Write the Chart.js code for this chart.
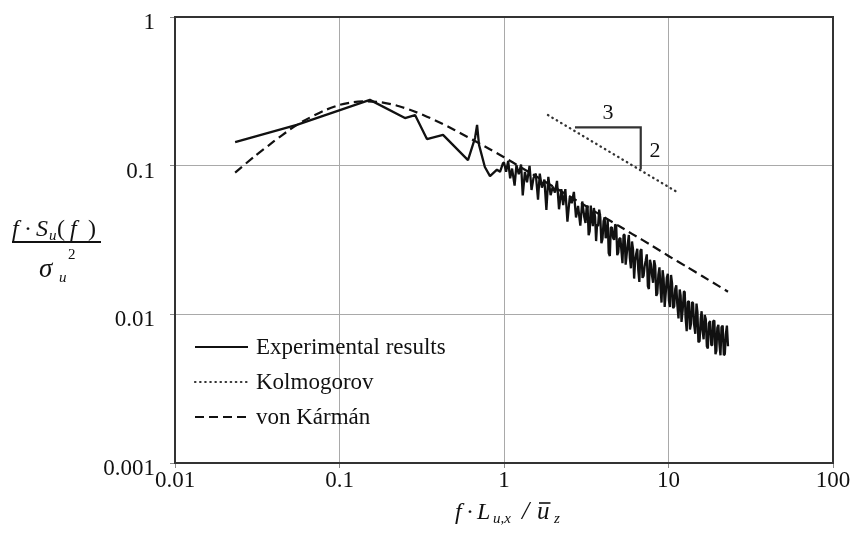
<!DOCTYPE html>
<html><head><meta charset="utf-8">
<script src="https://cdn.jsdelivr.net/npm/chart.js@4.4.1/dist/chart.umd.min.js"></script>
<style>html,body{margin:0;padding:0;background:#fff;}#wrap{width:850px;height:533px;}</style>
</head><body><div id="wrap"><canvas id="c" width="850" height="533"></canvas></div>
<script>
// ---------- data ----------
const xTickValues = [0.01, 0.1, 1, 10, 100];
const xTickLabels = ['0.01', '0.1', '1', '10', '100'];
const yTickValues = [0.001, 0.01, 0.1, 1];
const yTickLabels = ['0.001', '0.01', '0.1', '1'];
const seriesNames = ['Experimental results', 'Kolmogorov', 'von Kármán'];

const expX = [0.0232, 0.055, 0.153, 0.25, 0.288, 0.34, 0.426, 0.604, 0.667, 0.686, 0.705, 0.765, 0.822, 0.906, 0.946, 0.986,
  1.00, 1.03, 1.06, 1.09, 1.12, 1.16, 1.19, 1.23, 1.27, 1.30, 1.34, 1.38, 1.43, 1.47,
  1.51, 1.56, 1.61, 1.65, 1.70, 1.76, 1.81, 1.86, 1.92, 1.98,
  2.04, 2.10, 2.16, 2.23, 2.29, 2.36, 2.43, 2.51, 2.58, 2.66, 2.74, 2.82, 2.91, 2.99,
  3.08, 3.13, 3.18, 3.22, 3.27, 3.32, 3.37, 3.42, 3.47, 3.52,
  3.58, 3.63, 3.68, 3.73, 3.79, 3.85, 3.91, 3.97, 4.03, 4.09,
  4.15, 4.21, 4.27, 4.33, 4.40, 4.46, 4.53, 4.60, 4.67, 4.74,
  4.81, 4.88, 4.95, 5.02, 5.10, 5.17, 5.25, 5.33, 5.41, 5.49,
  5.57, 5.65, 5.74, 5.82, 5.91, 6.00, 6.09, 6.18, 6.27, 6.36,
  6.46, 6.55, 6.65, 6.75, 6.85, 6.95, 7.06, 7.16, 7.27, 7.38,
  7.49, 7.60, 7.71, 7.82, 7.94, 8.06, 8.18, 8.30, 8.43, 8.55,
  8.68, 8.81, 8.94, 9.07, 9.21, 9.34, 9.48, 9.62, 9.77, 9.91,
  10.06, 10.21, 10.36, 10.51, 10.67, 10.83, 10.99, 11.15, 11.3, 11.5,
  11.7, 11.85, 12.0, 12.2, 12.4, 12.55, 12.7, 12.9, 13.1, 13.3,
  13.5, 13.7, 13.9, 14.1, 14.3, 14.55, 14.8, 15.0, 15.2, 15.45,
  15.7, 15.9, 16.1, 16.35, 16.6, 16.85, 17.1, 17.35, 17.6, 17.9,
  18.2, 18.45, 18.7, 19.0, 19.3, 19.55, 19.8, 20.1, 20.4, 20.7,
  21.0, 21.35, 21.7, 22.0, 22.3, 22.65, 23.0];
const expY = [0.144, 0.188, 0.277, 0.209, 0.219, 0.151, 0.161, 0.109, 0.154, 0.188, 0.138, 0.098, 0.085, 0.094, 0.091, 0.104,
  0.105, 0.0909, 0.1075, 0.0821, 0.0956, 0.0735, 0.1008, 0.0875, 0.1018, 0.0630, 0.0908, 0.0774, 0.0997, 0.0686,
  0.0822, 0.0885, 0.0590, 0.0884, 0.0711, 0.0805, 0.0503, 0.0840, 0.0633, 0.0723,
  0.0659, 0.0790, 0.0509, 0.0694, 0.0543, 0.0695, 0.0420, 0.0613, 0.0559, 0.0666, 0.0448, 0.0536, 0.0395, 0.0574,
  0.0448, 0.0412, 0.0526, 0.0539, 0.0340, 0.0364, 0.0539, 0.0444, 0.0392, 0.0519,
  0.0449, 0.0311, 0.0404, 0.0391, 0.0506, 0.0448, 0.0301, 0.0321, 0.0423, 0.0449,
  0.0325, 0.0343, 0.0431, 0.0258, 0.0247, 0.0383, 0.0385, 0.0328, 0.0317, 0.0403,
  0.0394, 0.0250, 0.0260, 0.0322, 0.0326, 0.0270, 0.0221, 0.0342, 0.0343, 0.0216,
  0.0253, 0.0296, 0.0342, 0.0241, 0.0204, 0.0309, 0.0272, 0.0174, 0.0228, 0.0255,
  0.0276, 0.0198, 0.0165, 0.0268, 0.0274, 0.0176, 0.0182, 0.0211, 0.0230, 0.0253,
  0.0155, 0.0148, 0.0233, 0.0217, 0.0182, 0.0163, 0.0231, 0.0212, 0.0133, 0.0138,
  0.0185, 0.0207, 0.0150, 0.0120, 0.0198, 0.0174, 0.0112, 0.0139, 0.0177, 0.0187,
  0.0124, 0.0112, 0.0184, 0.0162, 0.0110, 0.0113, 0.0148, 0.0157, 0.0118, 0.0094,
  0.0147, 0.0134, 0.0089, 0.0107, 0.0142, 0.0142, 0.0095, 0.0077, 0.0121, 0.0123,
  0.0079, 0.0086, 0.0121, 0.0119, 0.0086, 0.0074, 0.0118, 0.0103, 0.0065, 0.0066,
  0.0094, 0.0105, 0.0078, 0.0068, 0.0099, 0.0093, 0.0061, 0.0059, 0.0087, 0.0090,
  0.0062, 0.0062, 0.0090, 0.0091, 0.0054, 0.0057, 0.0081, 0.0085, 0.0063, 0.0053,
  0.0082, 0.0084, 0.0053, 0.0054, 0.0073, 0.0084, 0.0061];

const karmanX = [0.0232, 0.03, 0.04, 0.05, 0.06, 0.08, 0.1, 0.12, 0.146, 0.18, 0.22, 0.27, 0.33, 0.4, 0.5, 0.6, 0.8,
  1, 1.3, 1.6, 2, 2.5, 3, 4, 5, 6, 8, 10, 13, 16, 20, 23];
const karmanY = [0.0899, 0.114, 0.146, 0.175, 0.199, 0.234, 0.256, 0.267, 0.271, 0.267, 0.255, 0.237, 0.217, 0.197, 0.174, 0.156, 0.131,
  0.114, 0.0958, 0.0836, 0.0722, 0.0623, 0.0552, 0.0455, 0.0393, 0.0348, 0.0288, 0.0247, 0.0208, 0.0181, 0.0156, 0.0142];

const kolmoX = [1.85, 11.4];
const kolmoY = [0.219, 0.066];

const slopeX = [2.70, 6.78, 6.78];
const slopeY = [0.181, 0.181, 0.0946];
const slopeLabels = ['3', '2'];
const slopeLabelX = [4.29, 8.28];
const slopeLabelY = [0.226, 0.126];

// ---------- helpers ----------
const SERIF = '"Liberation Serif", "Times New Roman", serif';
const pts = (xs, ys) => xs.map((x, i) => ({ x: x, y: ys[i] }));
const INK = '#111';
const it = (s) => 'italic ' + s + 'px ' + SERIF;
const rm = (s) => s + 'px ' + SERIF;

function drawGlyphs(ctx, list) {
  for (const g of list) {
    ctx.font = g.font;
    ctx.fillText(g.t, g.x, g.y);
    if (g.over) {
      const w = ctx.measureText(g.t).width;
      ctx.save();
      ctx.lineWidth = 1.6;
      ctx.beginPath();
      ctx.moveTo(g.x + 2, g.y - 16);
      ctx.lineTo(g.x + w + 1, g.y - 16);
      ctx.stroke();
      ctx.restore();
    }
  }
}

const decorPlugin = {
  id: 'decor',
  afterDatasetsDraw(chart) {
    const ctx = chart.ctx;
    const a = chart.chartArea;
    const xs = chart.scales.x, ys = chart.scales.y;
    ctx.save();
    // frame
    ctx.strokeStyle = '#333';
    ctx.lineWidth = 2;
    ctx.setLineDash([]);
    ctx.strokeRect(a.left, a.top, a.right - a.left, a.bottom - a.top);

    // slope labels
    ctx.fillStyle = INK;
    ctx.strokeStyle = INK;
    ctx.font = rm(22);
    ctx.textAlign = 'center';
    ctx.textBaseline = 'middle';
    slopeLabels.forEach((t, i) => {
      ctx.fillText(t, xs.getPixelForValue(slopeLabelX[i]), ys.getPixelForValue(slopeLabelY[i]));
    });

    // legend
    const ds = chart.data.datasets;
    const legendOrder = [0, 1, 2];
    const lx0 = a.left + 20, lx1 = a.left + 73, tx = a.left + 81;
    const rowY = [347, 382, 417];
    ctx.textAlign = 'left';
    ctx.font = rm(23);
    legendOrder.forEach((di, r) => {
      const d = ds[di];
      ctx.save();
      ctx.strokeStyle = d.borderColor;
      ctx.lineWidth = Math.min(d.borderWidth, 2.2);
      ctx.lineCap = d.borderCapStyle || 'butt';
      ctx.setLineDash(d.borderDash || []);
      ctx.beginPath();
      ctx.moveTo(lx0, rowY[r]);
      ctx.lineTo(lx1, rowY[r]);
      ctx.stroke();
      ctx.restore();
      ctx.fillText(d.label, tx, rowY[r] + 1);
    });

    // y-axis title (fraction)
    ctx.textAlign = 'left';
    ctx.textBaseline = 'alphabetic';
    drawGlyphs(ctx, [
      { t: 'f', x: 12, y: 236, font: it(24) },
      { t: '·', x: 24, y: 236, font: rm(24) },
      { t: 'S', x: 36, y: 236, font: it(24) },
      { t: 'u', x: 49, y: 240, font: it(15) },
      { t: '(', x: 57, y: 236, font: rm(24) },
      { t: 'f', x: 70, y: 236, font: it(24) },
      { t: ')', x: 88, y: 236, font: rm(24) },
      { t: 'σ', x: 39, y: 277, font: it(27) },
      { t: 'u', x: 59, y: 282, font: it(15) },
      { t: '2', x: 68, y: 259, font: rm(15) }
    ]);
    ctx.lineWidth = 1.8;
    ctx.beginPath();
    ctx.moveTo(12, 242);
    ctx.lineTo(101, 242);
    ctx.stroke();

    // x-axis title
    drawGlyphs(ctx, [
      { t: 'f', x: 455, y: 519, font: it(24) },
      { t: '·', x: 466, y: 519, font: rm(24) },
      { t: 'L', x: 477, y: 519, font: it(24) },
      { t: 'u,x', x: 493, y: 523, font: it(15) },
      { t: '/', x: 522, y: 519, font: it(26) },
      { t: 'u', x: 537, y: 519, font: it(25), over: true },
      { t: 'z', x: 554, y: 523, font: it(15) }
    ]);
    ctx.restore();
  }
};

// ---------- chart ----------
const tickFont = { family: SERIF, size: 23 };
new Chart(document.getElementById('c'), {
  type: 'scatter',
  data: {
    datasets: [
      { label: seriesNames[0], data: pts(expX, expY), showLine: true, borderColor: INK, borderWidth: 2.3,
        borderJoinStyle: 'bevel', pointRadius: 0, fill: false },
      { label: seriesNames[1], data: pts(kolmoX, kolmoY), showLine: true, borderColor: '#333', borderWidth: 2.3,
        borderDash: [0.5, 4.6], borderCapStyle: 'round', pointRadius: 0, fill: false },
      { label: seriesNames[2], data: pts(karmanX, karmanY), showLine: true, borderColor: INK, borderWidth: 2.2,
        borderDash: [9, 5], tension: 0.2, pointRadius: 0, fill: false },
      { label: 'slope', data: pts(slopeX, slopeY), showLine: true, borderColor: '#333', borderWidth: 2.2,
        pointRadius: 0, fill: false }
    ]
  },
  options: {
    responsive: false,
    animation: false,
    devicePixelRatio: 1,
    layout: { padding: { left: 0, top: 17, right: 17, bottom: 0 } },
    plugins: { legend: { display: false }, tooltip: { enabled: false } },
    scales: {
      x: {
        type: 'logarithmic', min: 0.01, max: 100,
        afterBuildTicks: (s) => { s.ticks = xTickValues.map(v => ({ value: v })); },
        afterFit: (s) => { s.height = 70; s.paddingLeft = 0; s.paddingRight = 0; },
        ticks: { autoSkip: false, maxRotation: 0, padding: -1, color: INK, font: tickFont,
          callback: (v, i) => xTickLabels[i] },
        grid: { color: '#a9a9a9', lineWidth: 1, tickLength: 5, tickColor: '#888' },
        border: { color: '#333', width: 2 }
      },
      y: {
        type: 'logarithmic', min: 0.001, max: 1,
        afterBuildTicks: (s) => { s.ticks = yTickValues.map(v => ({ value: v })); },
        afterFit: (s) => { s.width = 175; s.paddingTop = 0; s.paddingBottom = 0; },
        ticks: { autoSkip: false, padding: 15, labelOffset: 6, color: INK, font: tickFont,
          callback: (v, i) => yTickLabels[i] },
        grid: { color: '#a9a9a9', lineWidth: 1, tickLength: 5, tickColor: '#888' },
        border: { color: '#333', width: 2 }
      }
    }
  },
  plugins: [decorPlugin]
});
</script>
</body></html>
